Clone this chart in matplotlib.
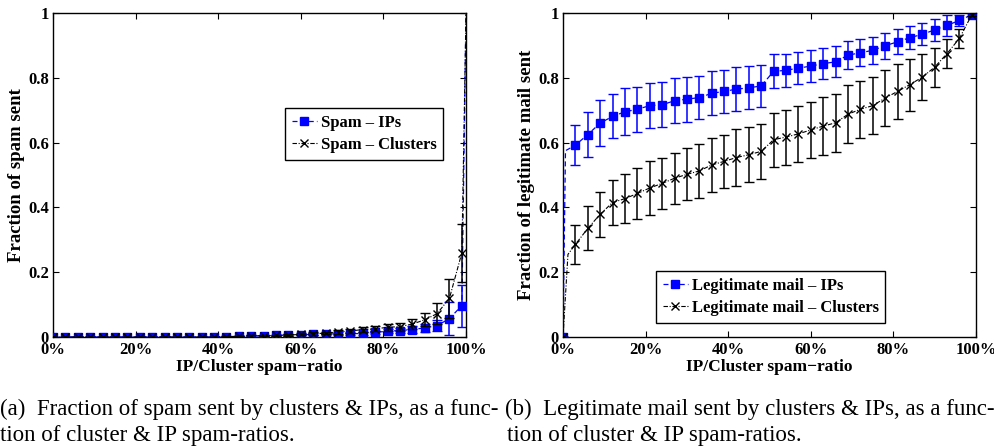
import numpy as np
import matplotlib
matplotlib.use("Agg")
import matplotlib.pyplot as plt
from matplotlib.ticker import FixedLocator, FixedFormatter

#######################################################
# data
#######################################################
ratio = [i * 0.03 for i in range(34)]          # 0%, 3%, ..., 99%

# (a) fraction of spam sent
spam_ips = [0, 0, 0, 0, 0, 0, 0, 0, 0, 0, 0, 0, 0, 0, 0.001, 0.002, 0.003,
            0.004, 0.005, 0.006, 0.007, 0.008, 0.009, 0.010, 0.010, 0.011,
            0.014, 0.018, 0.020, 0.023, 0.028, 0.035, 0.057, 0.097]
spam_ips_err = [0.001] * 14 + [0.001, 0.001, 0.002, 0.002, 0.002, 0.002,
                               0.002, 0.003, 0.003, 0.004, 0.004, 0.005,
                               0.006, 0.007, 0.008, 0.010, 0.012, 0.018,
                               0.052, 0.065]
spam_clusters = [0, 0, 0, 0, 0, 0, 0, 0, 0, 0, 0, 0, 0, 0, 0.001, 0.002, 0.003,
                 0.004, 0.005, 0.006, 0.008, 0.010, 0.012, 0.0155, 0.0185, 0.023,
                 0.025, 0.030, 0.032, 0.040, 0.053, 0.072, 0.120, 0.260]
spam_clusters_err = [0.001] * 14 + [0.001, 0.001, 0.002, 0.002, 0.002, 0.003,
                                    0.003, 0.004, 0.004, 0.005, 0.006, 0.008,
                                    0.008, 0.010, 0.012, 0.015, 0.020, 0.032,
                                    0.060, 0.090]
spam_end = (1.0, 1.0)       # both curves close at 100% -> 1

# (b) fraction of legitimate mail sent
legit_ips = [0, 0.592, 0.625, 0.660, 0.681, 0.695, 0.703, 0.714, 0.717, 0.729,
             0.734, 0.739, 0.752, 0.758, 0.765, 0.769, 0.775, 0.820, 0.823,
             0.830, 0.836, 0.844, 0.849, 0.870, 0.877, 0.885, 0.899, 0.911,
             0.924, 0.934, 0.948, 0.962, 0.977, 0.995]
legit_ips_err = [0, 0.062, 0.068, 0.070, 0.068, 0.072, 0.070, 0.070, 0.070,
                 0.070, 0.070, 0.067, 0.068, 0.067, 0.067, 0.066, 0.065, 0.053,
                 0.050, 0.050, 0.049, 0.048, 0.048, 0.044, 0.042, 0.042, 0.040,
                 0.039, 0.036, 0.034, 0.034, 0.033, 0.016, 0.004]
legit_clusters = [0, 0.286, 0.335, 0.379, 0.415, 0.427, 0.443, 0.460, 0.474,
                  0.490, 0.502, 0.5125, 0.531, 0.542, 0.554, 0.5625, 0.573,
                  0.609, 0.617, 0.627, 0.639, 0.651, 0.661, 0.6875, 0.703,
                  0.714, 0.7375, 0.758, 0.779, 0.802, 0.833, 0.875, 0.922, 0.995]
legit_clusters_err = [0, 0.060, 0.068, 0.070, 0.070, 0.075, 0.080, 0.082, 0.080,
                      0.078, 0.080, 0.082, 0.084, 0.083, 0.088, 0.085, 0.085,
                      0.083, 0.085, 0.086, 0.085, 0.089, 0.089, 0.089, 0.088,
                      0.088, 0.086, 0.084, 0.080, 0.070, 0.060, 0.046, 0.029, 0.005]
# steep first step between 0% and 3%
legit_ips_ramp = (0.006, 0.575)
legit_clusters_ramp = (0.012, 0.255)

xticks = [0, 0.2, 0.4, 0.6, 0.8, 1.0]
xticklabels = ["0%", "20%", "40%", "60%", "80%", "100%"]
yticks = [0, 0.2, 0.4, 0.6, 0.8, 1.0]
yticklabels = ["0", "0.2", "0.4", "0.6", "0.8", "1"]

BLUE = "#0000ff"
BOLD = dict(family="Liberation Serif", weight="bold")


def style_axes(ax, ylabel):
    ax.set_xlim(0, 1)
    ax.set_ylim(0, 1)
    ax.xaxis.set_major_locator(FixedLocator(xticks))
    ax.xaxis.set_major_formatter(FixedFormatter(xticklabels))
    ax.yaxis.set_major_locator(FixedLocator(yticks))
    ax.yaxis.set_major_formatter(FixedFormatter(yticklabels))
    ax.tick_params(direction="in", length=4, width=0.8, top=True, right=True)
    ax.tick_params(axis="x", pad=3.5)
    ax.tick_params(axis="y", pad=3)
    for lab in ax.get_xticklabels() + ax.get_yticklabels():
        lab.set_fontproperties(matplotlib.font_manager.FontProperties(
            family="Liberation Serif", weight="bold", size=12))
    ax.set_xlabel("IP/Cluster spam\u2212ratio", fontsize=12.5, labelpad=1, **BOLD)
    ax.set_ylabel(ylabel, fontsize=13.5, labelpad=2, **BOLD)
    for s in ax.spines.values():
        s.set_linewidth(1.0)


def draw(ax, x, ips, ips_err, cl, cl_err, ips_x, ips_y, cl_x, cl_y, labels,
         ips_mark, cl_mark):
    ax.errorbar(x, ips, yerr=ips_err, fmt="none", ecolor=BLUE, elinewidth=1.1,
                capsize=3.5, capthick=1.0, zorder=2)
    ip_line, = ax.plot(ips_x, ips_y, color=BLUE, ls=(0, (4, 2.5)), lw=0.9,
                       marker="s", ms=5.5, mfc=BLUE, mec=BLUE,
                       markevery=ips_mark, zorder=3, label=labels[0])
    ax.errorbar(x, cl, yerr=cl_err, fmt="none", ecolor="black", elinewidth=1.1,
                capsize=3.5, capthick=1.0, zorder=4)
    cl_line, = ax.plot(cl_x, cl_y, color="black", ls=(0, (4, 1.5, 1, 1.5)),
                       lw=0.8, marker="x", ms=6, mew=1.0,
                       markevery=cl_mark, zorder=5, label=labels[1])
    return ip_line, cl_line


fig = plt.figure(figsize=(9.94, 4.46), dpi=100)
ax1 = fig.add_axes([53 / 994, 109 / 446, 413 / 994, 324 / 446])
ax2 = fig.add_axes([563 / 994, 109 / 446, 413 / 994, 324 / 446])

# (a)
ax1_ips_x = ratio + [spam_end[0]]
ax1_ips_y = spam_ips + [spam_end[1]]
ax1_cl_x = ratio + [spam_end[0]]
ax1_cl_y = spam_clusters + [spam_end[1]]
h1 = draw(ax1, ratio, spam_ips, spam_ips_err, spam_clusters, spam_clusters_err,
          ax1_ips_x, ax1_ips_y, ax1_cl_x, ax1_cl_y,
          ["Spam \u2013 IPs", "Spam \u2013 Clusters"],
          list(range(len(ratio))), list(range(len(ratio))))
style_axes(ax1, "Fraction of spam sent")

# (b)
ax2_ips_x = [ratio[0], legit_ips_ramp[0]] + ratio[1:]
ax2_ips_y = [legit_ips[0], legit_ips_ramp[1]] + legit_ips[1:]
ax2_cl_x = [ratio[0], legit_clusters_ramp[0]] + ratio[1:]
ax2_cl_y = [legit_clusters[0], legit_clusters_ramp[1]] + legit_clusters[1:]
mark = [0] + list(range(2, len(ratio) + 1))
h2 = draw(ax2, ratio, legit_ips, legit_ips_err, legit_clusters,
          legit_clusters_err, ax2_ips_x, ax2_ips_y, ax2_cl_x, ax2_cl_y,
          ["Legitimate mail \u2013 IPs", "Legitimate mail \u2013 Clusters"],
          mark, mark)
style_axes(ax2, "Fraction of legitimate mail sent")

leg_kw = dict(frameon=True, fancybox=False, edgecolor="black", framealpha=1,
              borderaxespad=0, handlelength=1.5, handletextpad=0.25,
              labelspacing=0.4, borderpad=0.4, numpoints=1,
              prop=dict(family="Liberation Serif", weight="bold", size=12))
l1 = ax1.legend(handles=list(h1), loc="upper left",
                bbox_to_anchor=(0.562, 0.707), **leg_kw)
l2 = ax2.legend(handles=list(h2), loc="upper left",
                bbox_to_anchor=(0.225, 0.204), **leg_kw)
for lg in (l1, l2):
    lg.get_frame().set_linewidth(1.0)

# captions
cap = dict(family="Liberation Serif", size=16.5, va="baseline", ha="left")
fig.text(0.5 / 994, 1 - 415 / 446,
         "(a)  Fraction of spam sent by clusters & IPs, as a func-", **cap)
fig.text(0.5 / 994, 1 - 441 / 446, "tion of cluster & IP spam-ratios.", **cap)
fig.text(505 / 994, 1 - 415 / 446,
         "(b)  Legitimate mail sent by clusters & IPs, as a func-", **cap)
fig.text(507 / 994, 1 - 441 / 446, "tion of cluster & IP spam-ratios.", **cap)

fig.savefig("out.png", dpi=100)
